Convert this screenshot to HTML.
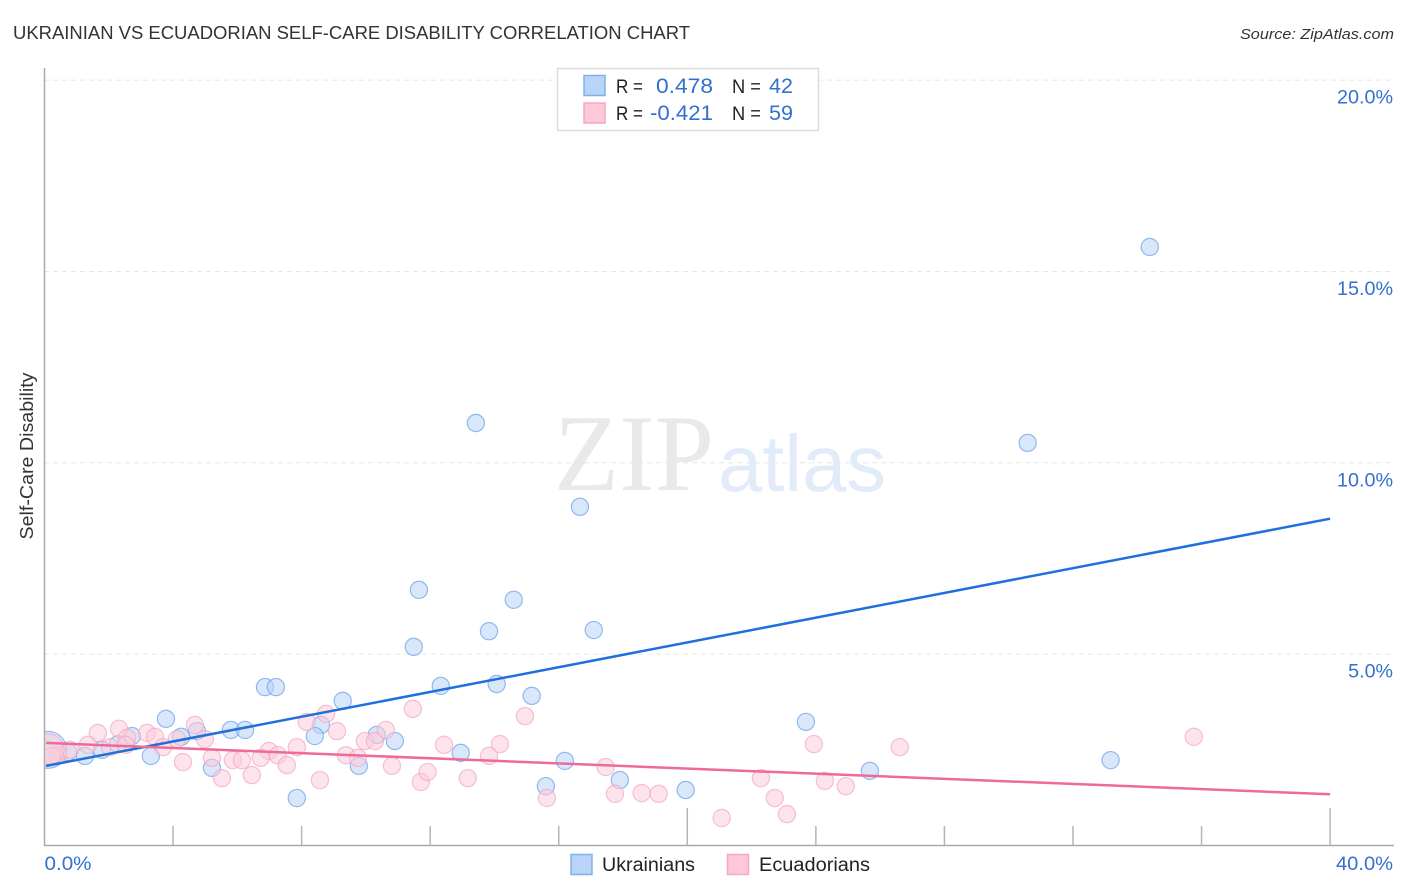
<!DOCTYPE html>
<html lang="en">
<head>
<meta charset="utf-8">
<title>Ukrainian vs Ecuadorian Self-Care Disability Correlation Chart</title>
<style>
html,body{margin:0;padding:0;background:#fff;}
svg{display:block;font-family:"Liberation Sans",sans-serif;}
</style>
</head>
<body>
<svg id="chart" xmlns="http://www.w3.org/2000/svg" width="1406" height="892" viewBox="0 0 1406 892">
  <defs>
    <clipPath id="plot-clip"><rect x="45" y="60" width="1350" height="785"/></clipPath>
  </defs>
  <rect x="0" y="0" width="1406" height="892" fill="#ffffff"/>
  <text x="13" y="39" font-size="18.5" fill="#333333" textLength="677" lengthAdjust="spacingAndGlyphs">UKRAINIAN VS ECUADORIAN SELF-CARE DISABILITY CORRELATION CHART</text>
  <text x="1394" y="39" font-size="15" font-style="italic" fill="#333333" text-anchor="end" textLength="154" lengthAdjust="spacingAndGlyphs">Source: ZipAtlas.com</text>

  <g id="grid"></g>

  <text x="554" y="490" font-family="'Liberation Serif',serif" font-size="109" fill="#e9e9e9" textLength="160" lengthAdjust="spacingAndGlyphs">ZIP</text>
  <text x="718" y="491" font-size="80" fill="#e2ecf9" textLength="168" lengthAdjust="spacingAndGlyphs">atlas</text>

  <g id="axes"></g>
  <g id="points" clip-path="url(#plot-clip)"></g>
  <g id="trends"></g>
  <g id="tick-labels"></g>

  <text transform="translate(33 456) rotate(-90)" font-size="18" fill="#333333" text-anchor="middle" textLength="167" lengthAdjust="spacingAndGlyphs">Self-Care Disability</text>

  <g>
    <rect x="557.5" y="68.5" width="261" height="62" fill="#ffffff" stroke="#dddddd" stroke-width="1.5"/>
    <rect x="584" y="75.5" width="21" height="20" fill="#b9d4f7" stroke="#7fb0ec" stroke-width="1.5"/>
    <rect x="584" y="103" width="21" height="20" fill="#fdc8d8" stroke="#f4a9c0" stroke-width="1.5"/>
    <text x="616" y="93" font-size="19" fill="#222222" textLength="27" lengthAdjust="spacingAndGlyphs">R =</text>
    <text x="713" y="93" font-size="21" fill="#3370d0" text-anchor="end" textLength="57" lengthAdjust="spacingAndGlyphs">0.478</text>
    <text x="732" y="93" font-size="19" fill="#222222" textLength="29" lengthAdjust="spacingAndGlyphs">N =</text>
    <text x="769" y="93" font-size="21" fill="#3370d0" textLength="24" lengthAdjust="spacingAndGlyphs">42</text>
    <text x="616" y="120" font-size="19" fill="#222222" textLength="27" lengthAdjust="spacingAndGlyphs">R =</text>
    <text x="713" y="120" font-size="21" fill="#3370d0" text-anchor="end" textLength="63" lengthAdjust="spacingAndGlyphs">-0.421</text>
    <text x="732" y="120" font-size="19" fill="#222222" textLength="29" lengthAdjust="spacingAndGlyphs">N =</text>
    <text x="769" y="120" font-size="21" fill="#3370d0" textLength="24" lengthAdjust="spacingAndGlyphs">59</text>
  </g>

  <g>
    <g>
      <rect x="571" y="854.5" width="21" height="20" fill="#b9d4f7" stroke="#7fb0ec" stroke-width="1.5"/>
      <text x="602" y="871" font-size="19" fill="#222222" textLength="93" lengthAdjust="spacingAndGlyphs">Ukrainians</text>
    </g>
    <g>
      <rect x="727.5" y="854.5" width="21" height="20" fill="#fdc8d8" stroke="#f4a9c0" stroke-width="1.5"/>
      <text x="759" y="871" font-size="19" fill="#222222" textLength="111" lengthAdjust="spacingAndGlyphs">Ecuadorians</text>
    </g>
  </g>
</svg>
<script>
const yTickValues = [5, 10, 15, 20];
const yTickLabels = ["5.0%", "10.0%", "15.0%", "20.0%"];
const xTickValues = [0, 4, 8, 12, 16, 20, 24, 28, 32, 36, 40];
const xMajorTicks = [20, 40];
const xEndValues = [0, 40];
const xEndLabels = ["0.0%", "40.0%"];

const ukrainianX = [34.39,30.59,13.42,16.66,11.65,14.60,13.83,17.09,11.49,6.86,7.20,12.33,14.07,9.28,15.16,3.78,23.69,8.60,5.80,6.24,4.74,2.72,4.25,8.41,10.34,10.90,12.95,2.29,1.79,1.26,0.73,3.31,16.19,33.17,5.21,9.78,25.68,15.60,17.90,19.95,7.85,0.11];
const ukrainianY = [15.64,10.52,11.04,8.85,6.68,6.42,5.60,5.63,5.19,4.14,4.14,4.17,4.22,3.78,3.91,3.31,3.23,3.15,3.02,3.02,2.99,2.86,2.84,2.86,2.89,2.73,2.42,2.65,2.50,2.34,2.44,2.34,2.21,2.23,2.03,2.08,1.95,1.55,1.71,1.45,1.24,2.50];
const ecuadorianX = [35.76,23.94,26.61,11.46,14.95,4.68,2.32,1.66,3.19,3.44,4.12,4.99,8.76,8.16,9.10,7.85,6.98,7.26,6.73,5.86,6.14,6.45,5.52,4.31,5.21,7.54,9.38,9.75,8.57,9.97,10.28,10.62,10.81,11.71,11.92,12.43,14.17,13.83,13.17,17.46,15.63,17.75,18.58,19.11,21.07,22.29,22.72,23.10,24.28,24.93,1.35,0.42,0.79,2.04,2.57,3.69,0.23,2.53,0.11];
const ecuadorianY = [2.84,2.65,2.57,3.57,3.38,3.15,3.05,2.94,2.94,2.84,2.78,2.78,3.44,3.23,2.99,2.57,2.47,2.36,2.29,2.23,2.23,1.84,1.76,2.18,2.29,2.10,2.36,2.29,1.71,2.73,2.73,3.02,2.08,1.66,1.92,2.63,2.65,2.34,1.76,2.05,1.24,1.35,1.37,1.35,0.72,1.76,1.24,0.82,1.69,1.55,2.63,2.36,2.50,2.57,2.81,2.57,2.34,2.63,2.50];
const ukrainianLargeIndex = [41];
const ecuadorianLargeIndex = [58];

const trendX = [0.05, 40];
const ukrainianTrendY = [2.08, 8.54];
const ecuadorianTrendY = [2.68, 1.34];

const NS = "http://www.w3.org/2000/svg";
const xScale = v => 44.5 + v * 32.14;
const yScale = v => 845.5 - v * 38.27;

function make(parent, tag, attrs, text) {
  const el = document.createElementNS(NS, tag);
  for (const k in attrs) el.setAttribute(k, attrs[k]);
  if (text !== undefined) el.textContent = text;
  parent.appendChild(el);
  return el;
}

const gridG = document.getElementById("grid");
yTickValues.forEach(v => {
  const el = make(gridG, "line", {x1: 44, x2: 1394, y1: yScale(v), y2: yScale(v), stroke: "#e6e6e6", "stroke-width": 1, "stroke-dasharray": "5 4"});
  
  
});

const axesG = document.getElementById("axes");
const yAxisLine = make(axesG, "line", {x1: 44.5, x2: 44.5, y1: 68, y2: 846, stroke: "#aaaaaa", "stroke-width": 1.5});


const xAxisLine = make(axesG, "line", {x1: 44, x2: 1394, y1: 845.5, y2: 845.5, stroke: "#aaaaaa", "stroke-width": 1.5});


xTickValues.slice(1).forEach(v => {
  const top = xMajorTicks.includes(v) ? 808 : 826;
  const el = make(axesG, "line", {x1: xScale(v), x2: xScale(v), y1: top, y2: 845, stroke: "#b5b5b5", "stroke-width": 1.5});
  
  
});

const pointsG = document.getElementById("points");
function drawSeries(xs, ys, largeIdx, largeCx, largeR, fill, stroke, name) {
  xs.forEach((v, i) => {
    const el = make(pointsG, "circle", {
      cx: xScale(v), cy: yScale(ys[i]),
      r: largeIdx.includes(i) ? largeR : 8.6,
      fill: fill, "fill-opacity": 0.55, stroke: stroke, "stroke-opacity": 0.7, "stroke-width": 1.2
    });
    
    
  });
}
drawSeries(ukrainianX, ukrainianY, ukrainianLargeIndex, 0, 18.5, "#b9d4f7", "#6aa0e8", "ukrainian-point");
drawSeries(ecuadorianX, ecuadorianY, ecuadorianLargeIndex, 0, 16, "#fcccdb", "#f4a6c0", "ecuadorian-point");

const trendsG = document.getElementById("trends");
const blueTrend = make(trendsG, "line", {x1: xScale(trendX[0]), x2: xScale(trendX[1]), y1: yScale(ukrainianTrendY[0]), y2: yScale(ukrainianTrendY[1]), stroke: "#1f6fdc", "stroke-width": 2.5});


const pinkTrend = make(trendsG, "line", {x1: xScale(trendX[0]), x2: xScale(trendX[1]), y1: yScale(ecuadorianTrendY[0]), y2: yScale(ecuadorianTrendY[1]), stroke: "#ee6a98", "stroke-width": 2.5});



const labelsG = document.getElementById("tick-labels");
yTickValues.forEach((v, i) => {
  const el = make(labelsG, "text", {x: 1393, y: yScale(v) + 23.5, "font-size": 19, fill: "#3370d0", "text-anchor": "end", textLength: yTickLabels[i].length * 11.2, lengthAdjust: "spacingAndGlyphs"}, yTickLabels[i]);
  
  
});
const xLabelLeft = make(labelsG, "text", {x: xScale(xEndValues[0]), y: 870, "font-size": 19, fill: "#3370d0", textLength: 47, lengthAdjust: "spacingAndGlyphs"}, xEndLabels[0]);


const xLabelRight = make(labelsG, "text", {x: 1393, y: 870, "font-size": 19, fill: "#3370d0", "text-anchor": "end", textLength: 57, lengthAdjust: "spacingAndGlyphs"}, xEndLabels[1]);


</script>
</body>
</html>
